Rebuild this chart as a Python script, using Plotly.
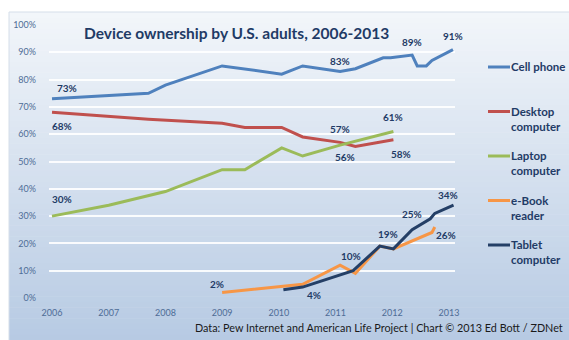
import plotly.graph_objects as go

# Survey dates as fractional years, ownership in percent
cell_x = [2006.0, 2007.7, 2008.0, 2009.0, 2010.05, 2010.42, 2011.08, 2011.35, 2011.84, 2011.97, 2012.35, 2012.44, 2012.6, 2012.7, 2013.07]
cell_y = [73, 75, 78, 85, 82, 85, 83, 84, 88, 88, 89, 85, 85, 87, 91]

desk_x = [2006.0, 2007.7, 2009.0, 2009.4, 2010.05, 2010.42, 2011.08, 2011.35, 2012.02]
desk_y = [68, 65.5, 64, 62.5, 62.5, 59, 57, 55.5, 58]

lap_x = [2006.0, 2007.0, 2008.0, 2009.0, 2009.4, 2010.05, 2010.42, 2011.08, 2012.02]
lap_y = [30, 34, 39, 47, 47, 55, 52, 56, 61]

ebook_x = [2009.0, 2010.02, 2010.42, 2011.08, 2011.35, 2011.78, 2012.02, 2012.7, 2012.75]
ebook_y = [2, 4, 5, 12, 9, 19, 18, 24, 26]

tab_x = [2010.08, 2010.42, 2011.31, 2011.78, 2012.02, 2012.35, 2012.67, 2012.75, 2013.08]
tab_y = [3, 4, 10, 19, 18, 25, 29, 31, 34]

series_names = ["Cell phone", "Desktop<br>computer", "Laptop<br>computer", "e-Book<br>reader", "Tablet<br>computer"]
series_colors = ["#4F81BD", "#C0504D", "#9BBB59", "#F79646", "#243F66"]

year_ticks = [2006, 2007, 2008, 2009, 2010, 2011, 2012, 2013]
pct_ticks = [0, 10, 20, 30, 40, 50, 60, 70, 80, 90, 100]

title_text = "Device ownership by U.S. adults, 2006-2013"
source_text = "Data: Pew Internet and American Life Project | Chart © 2013 Ed Bott / ZDNet"

# (series index, point index, xshift, yshift) for the value callouts
callouts = [
    (0, 0, 15, 11), (0, 6, 0, 10), (0, 10, 0, 13), (0, 14, 0, 14),
    (1, 0, 10, -14), (1, 6, 0, 13), (1, 8, 8, -14),
    (2, 0, 10, 17), (2, 7, 5, -12), (2, 8, 0, 14),
    (3, 0, -5, 9), (3, 8, 11, -8),
    (4, 1, 11, -8), (4, 2, -2, 15), (4, 3, 8, 12), (4, 5, 0, 16), (4, 8, -6, 10),
]

FONT = "Lato"
NAVY = "#1F3B66"

W, H = 569, 340
ML, MR, MT, MB = 49, 114, 25, 42

all_x = [cell_x, desk_x, lap_x, ebook_x, tab_x]
all_y = [cell_y, desk_y, lap_y, ebook_y, tab_y]

fig = go.Figure()
for i, (xs, ys) in enumerate(zip(all_x, all_y)):
    fig.add_trace(go.Scatter(
        x=xs, y=ys, mode="lines", name=series_names[i].replace("<br>", " "),
        line=dict(color=series_colors[i], width=3),
        hoverinfo="skip", showlegend=False,
    ))

annotations = []
for s, p, dx, dy in callouts:
    v = all_y[s][p]
    annotations.append(dict(
        x=all_x[s][p], y=v, xref="x", yref="y",
        text=f"<b>{round(v)}%</b>", showarrow=False,
        xshift=dx, yshift=dy,
        font=dict(family=FONT, size=10, color=NAVY),
    ))

pw = W - ML - MR
ph = H - MT - MB


def px_to_paper_x(px):
    return (px - ML) / pw


def px_to_paper_y(py):
    return (H - MB - py) / ph


annotations.append(dict(
    x=px_to_paper_x(82), y=px_to_paper_y(33), xref="paper", yref="paper",
    xanchor="left", yanchor="middle", showarrow=False,
    text=f"<b>{title_text}</b>",
    font=dict(family=FONT, size=15.5, color=NAVY),
))
annotations.append(dict(
    x=px_to_paper_x(565), y=px_to_paper_y(327), xref="paper", yref="paper",
    xanchor="right", yanchor="middle", showarrow=False,
    text=source_text,
    font=dict(family=FONT, size=10.8, color="#1a1a1a"),
))

shapes = []

# Key in the right-hand margin: a short line swatch and bold label per series
key_top, key_step = 67, 44.5
for i, name in enumerate(series_names):
    yc = key_top + i * key_step
    shapes.append(dict(
        type="line", xref="paper", yref="paper",
        x0=px_to_paper_x(488), x1=px_to_paper_x(510),
        y0=px_to_paper_y(yc), y1=px_to_paper_y(yc),
        line=dict(color=series_colors[i], width=3),
    ))
    label = "<br>".join(f"<b>{ln}</b>" for ln in name.split("<br>"))
    annotations.append(dict(
        x=px_to_paper_x(510), y=px_to_paper_y(yc - 8), xref="paper", yref="paper",
        xanchor="left", yanchor="top", align="left", showarrow=False,
        text=label, borderpad=0,
        font=dict(family=FONT, size=11.5, color=NAVY),
    ))

# Vertical gradient panel behind the chart
top, bottom, left, right = 12, H, 9, W
c0 = (0xF3, 0xF6, 0xFA)
c1 = (0xB6, 0xCA, 0xE3)
n = 60
step = (bottom - top) / n
for k in range(n):
    t = (k + 0.5) / n
    col = tuple(round(a + (b - a) * t) for a, b in zip(c0, c1))
    y0 = top + k * step
    y1 = y0 + step + 0.6
    shapes.append(dict(
        type="rect", xref="paper", yref="paper", layer="below",
        x0=px_to_paper_x(left), x1=px_to_paper_x(right),
        y0=px_to_paper_y(min(y1, bottom)), y1=px_to_paper_y(y0),
        line=dict(width=0), fillcolor="rgb(%d,%d,%d)" % col,
    ))
shapes.append(dict(
    type="rect", xref="paper", yref="paper", layer="below",
    x0=px_to_paper_x(left), x1=px_to_paper_x(right + 2),
    y0=px_to_paper_y(bottom + 2), y1=px_to_paper_y(top),
    line=dict(width=1, color="#D5DEE9"), fillcolor="rgba(0,0,0,0)",
))

fig.update_layout(
    width=W, height=H,
    margin=dict(l=ML, r=MR, t=MT, b=MB, pad=0),
    paper_bgcolor="white", plot_bgcolor="rgba(0,0,0,0)",
    font=dict(family=FONT),
    showlegend=False,
    xaxis=dict(
        range=[2005.947, 2013.106], tickvals=year_ticks,
        ticktext=[str(y) for y in year_ticks],
        showgrid=False, zeroline=False, showline=False,
        tickfont=dict(family=FONT, size=9, color="#4E6C96"),
        ticks="", ticklabelstandoff=8,
    ),
    yaxis=dict(
        range=[0, 100], tickvals=pct_ticks,
        ticktext=[f"{v}%" for v in pct_ticks],
        showgrid=True, gridcolor="rgba(255,255,255,0.9)", gridwidth=1.5,
        zeroline=False, showline=False,
        tickfont=dict(family=FONT, size=9, color="#4E6C96"),
        ticks="", ticklabelstandoff=12,
    ),
    annotations=annotations,
    shapes=shapes,
)

fig.write_html("out.html")
